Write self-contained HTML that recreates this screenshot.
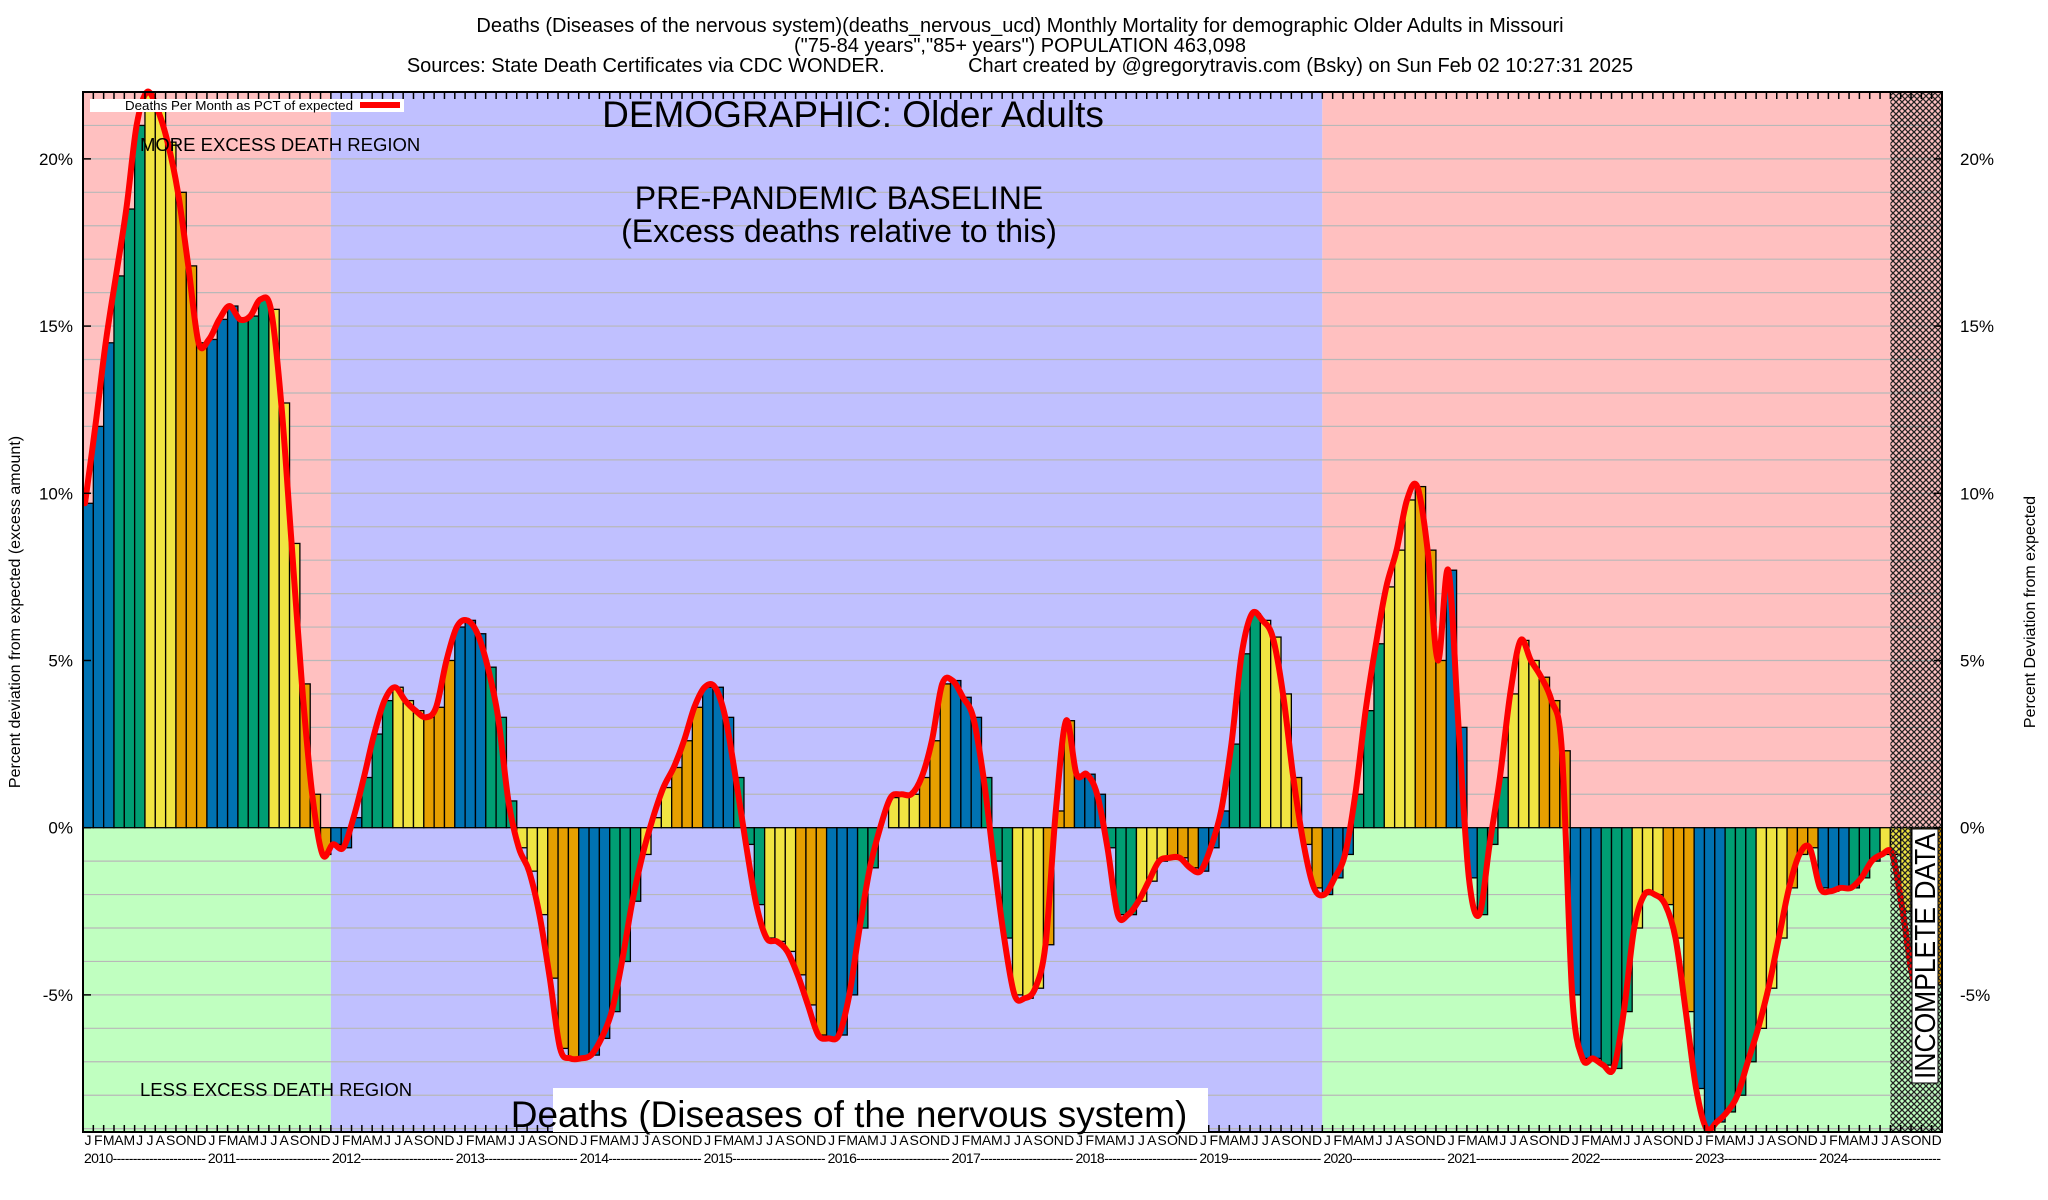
<!DOCTYPE html>
<html><head><meta charset="utf-8"><style>
html,body{margin:0;padding:0;background:#fff;}
svg{display:block;font-family:"Liberation Sans",Arial,sans-serif;}
</style></head><body>
<svg id="chart" width="2048" height="1200" viewBox="0 0 2048 1200" xmlns="http://www.w3.org/2000/svg">
<defs>
<pattern id="hatch" width="6" height="6" patternUnits="userSpaceOnUse">
<path d="M0,0 L6,6 M6,0 L0,6" stroke="#222" stroke-width="1.3"/>
</pattern>
</defs>
<g id="bg"></g><g id="grid"></g><g id="bars"></g><g id="line"></g><g id="hatchg"></g><g id="frame"></g><g id="labels"></g>
</svg>
<script>
const years = [2010,2011,2012,2013,2014,2015,2016,2017,2018,2019,2020,2021,2022,2023,2024];
const monthLetters = ["J","F","M","A","M","J","J","A","S","O","N","D"];
const yTicks = [-5,0,5,10,15,20];
const yTickLabels = ["-5%","0%","5%","10%","15%","20%"];
const pctValues = [
9.7,12,14.5,16.5,18.5,21,22,21.5,20.5,19,16.8,14.5,
14.6,15.2,15.6,15.2,15.3,15.8,15.5,12.7,8.5,4.3,1,-0.8,
-0.5,-0.6,0.3,1.5,2.8,3.8,4.2,3.8,3.5,3.3,3.6,5,
6,6.2,5.8,4.8,3.3,0.8,-0.6,-1.3,-2.6,-4.5,-6.6,-6.9,
-6.9,-6.8,-6.3,-5.5,-4,-2.2,-0.8,0.3,1.2,1.8,2.6,3.6,
4.2,4.2,3.3,1.5,-0.5,-2.3,-3.3,-3.4,-3.7,-4.4,-5.3,-6.2,
-6.3,-6.2,-5,-3,-1.2,0,0.9,1.0,1.0,1.5,2.6,4.3,
4.4,3.9,3.3,1.5,-1.0,-3.3,-5,-5.1,-4.8,-3.5,0.5,3.2,
1.6,1.6,1.0,-0.6,-2.6,-2.6,-2.2,-1.6,-1.0,-0.9,-0.9,-1.2,
-1.3,-0.6,0.5,2.5,5.2,6.4,6.2,5.7,4.0,1.5,-0.5,-1.8,
-2.0,-1.5,-0.8,1.0,3.5,5.5,7.2,8.3,9.8,10.2,8.3,5.0,
7.7,3.0,-1.5,-2.6,-0.5,1.5,4.0,5.6,5.0,4.5,3.8,2.3,
-5.0,-6.9,-6.9,-7.1,-7.2,-5.5,-3.0,-2.0,-2.0,-2.3,-3.3,-5.5,
-7.8,-9.0,-8.8,-8.5,-8.0,-7.0,-6.0,-4.8,-3.3,-1.8,-0.8,-0.6,
-1.8,-1.9,-1.8,-1.8,-1.5,-1.0,-0.8,-0.8,-2.5,-4.5,-4.6,-4.7
];
const baselineYears = [2012,2019];
const incompleteFromMonth = 175;

const NS="http://www.w3.org/2000/svg";
const L=83,R=1942,T=92,B=1132,YMIN=-9.1,YMAX=22.0,NM=years.length*12;
const xS=m=>L+(R-L)*m/NM;
const yS=v=>B-(B-T)*(v-YMIN)/(YMAX-YMIN);
function mk(parent,tag,attrs,text){const e=document.createElementNS(NS,tag);for(const k in attrs)e.setAttribute(k,attrs[k]);if(text!==undefined)e.textContent=text;document.getElementById(parent).appendChild(e);return e;}
const colors=["#0072B2","#0072B2","#0072B2","#009E73","#009E73","#009E73","#F0E442","#F0E442","#F0E442","#E69F00","#E69F00","#E69F00"];

const y0=yS(0);
const bStart=(baselineYears[0]-years[0])*12, bEnd=(baselineYears[1]-years[0]+1)*12;
let e;
e=mk('bg','rect',{x:xS(0),y:T,width:xS(bStart)-xS(0),height:y0-T,fill:"#FFC0C0"});

e=mk('bg','rect',{x:xS(0),y:y0,width:xS(bStart)-xS(0),height:B-y0,fill:"#C0FFC0"});

e=mk('bg','rect',{x:xS(bStart),y:T,width:xS(bEnd)-xS(bStart),height:B-T,fill:"#C0C0FF"});

e=mk('bg','rect',{x:xS(bEnd),y:T,width:R-xS(bEnd),height:y0-T,fill:"#FFC0C0"});

e=mk('bg','rect',{x:xS(bEnd),y:y0,width:R-xS(bEnd),height:B-y0,fill:"#C0FFC0"});


for(let v=Math.ceil(YMIN);v<=Math.floor(YMAX);v++){
 e=mk('grid','line',{x1:L,x2:R,y1:yS(v),y2:yS(v),stroke:"#b8b8b8","stroke-width":1.2});
 
}
pctValues.forEach((v,i)=>{
 const x1=xS(i),x2=xS(i+1),yv=yS(v);
 e=mk('bars','rect',{x:x1,y:Math.min(yv,y0),width:x2-x1,height:Math.abs(yv-y0),fill:colors[i%12],stroke:"#000","stroke-width":1.3});
 
});

const pts=pctValues.map((v,i)=>[xS(i)+2,yS(v)]);
let d="M"+pts[0][0].toFixed(1)+","+pts[0][1].toFixed(1);
for(let i=0;i<pts.length-1;i++){
 const p0=pts[Math.max(0,i-1)],p1=pts[i],p2=pts[i+1],p3=pts[Math.min(pts.length-1,i+2)];
 const c1=[p1[0]+(p2[0]-p0[0])/6,p1[1]+(p2[1]-p0[1])/6];
 const c2=[p2[0]-(p3[0]-p1[0])/6,p2[1]-(p3[1]-p1[1])/6];
 d+="C"+c1[0].toFixed(1)+","+c1[1].toFixed(1)+" "+c2[0].toFixed(1)+","+c2[1].toFixed(1)+" "+p2[0].toFixed(1)+","+p2[1].toFixed(1);
}
e=mk('line','path',{d:d,fill:"none",stroke:"#ff0000","stroke-width":6,"stroke-linejoin":"round","stroke-linecap":"round"});


e=mk('hatchg','rect',{x:xS(incompleteFromMonth),y:T,width:R-xS(incompleteFromMonth),height:B-T,fill:"url(#hatch)"});


e=mk('frame','rect',{x:L,y:T,width:R-L,height:B-T,fill:"none",stroke:"#000","stroke-width":2});

for(let i=0;i<=NM;i++){
 e=mk('frame','line',{x1:xS(i),x2:xS(i),y1:T,y2:T+7,stroke:"#000","stroke-width":1.5});
 
 e=mk('frame','line',{x1:xS(i),x2:xS(i),y1:B,y2:B-7,stroke:"#000","stroke-width":1.5});
 
}
yTicks.forEach((v,k)=>{
 e=mk('frame','line',{x1:L,x2:L+8,y1:yS(v),y2:yS(v),stroke:"#000","stroke-width":1.5});
 
 e=mk('frame','line',{x1:R-8,x2:R,y1:yS(v),y2:yS(v),stroke:"#000","stroke-width":1.5});
 
 e=mk('labels','text',{x:L-10,y:yS(v)+6,"text-anchor":"end","font-size":17},yTickLabels[k]);
 
 e=mk('labels','text',{x:R+18,y:yS(v)+6,"text-anchor":"start","font-size":17},yTickLabels[k]);
 
});
for(let i=0;i<NM;i++){
 e=mk('labels','text',{x:xS(i)+5,y:1145,"text-anchor":"middle","font-size":14},monthLetters[i%12]);
 
}
years.forEach((yr,k)=>{
 e=mk('labels','text',{x:xS(k*12)+1,y:1163,"font-size":14,textLength:xS(12)-xS(0)-2,lengthAdjust:"spacing"},yr+"-----------------------");
 
});
</script>
<svg style="position:absolute;left:0;top:0" width="2048" height="1200">
<g font-family="Liberation Sans, Arial, sans-serif">
<text x="1020" y="32" text-anchor="middle" font-size="20">Deaths (Diseases of the nervous system)(deaths_nervous_ucd) Monthly Mortality for demographic Older Adults in Missouri</text>
<text x="1020" y="52" text-anchor="middle" font-size="20">("75-84 years","85+ years") POPULATION 463,098</text>
<text x="1020" y="72" text-anchor="middle" font-size="20" xml:space="preserve">Sources: State Death Certificates via CDC WONDER.               Chart created by @gregorytravis.com (Bsky) on Sun Feb 02 10:27:31 2025</text>
<rect x="90" y="99" width="314" height="13" fill="#fff"/>
<text x="125" y="110" font-size="13" textLength="228" lengthAdjust="spacingAndGlyphs">Deaths Per Month as PCT of expected</text>
<line x1="360" x2="400" y1="105" y2="105" stroke="#f00" stroke-width="6"/>
<text x="853" y="127" text-anchor="middle" font-size="37">DEMOGRAPHIC: Older Adults</text>
<text x="839" y="209" text-anchor="middle" font-size="32">PRE-PANDEMIC BASELINE</text>
<text x="839" y="242" text-anchor="middle" font-size="32">(Excess deaths relative to this)</text>
<text x="140" y="151" font-size="18.5">MORE EXCESS DEATH REGION</text>
<text x="140" y="1096" font-size="18.5">LESS EXCESS DEATH REGION</text>
<rect x="553" y="1088" width="655" height="44" fill="#fff"/>
<text x="849" y="1127" text-anchor="middle" font-size="37">Deaths (Diseases of the nervous system)</text>
<rect x="1912" y="829" width="26" height="254" fill="#fff" stroke="#000" stroke-width="1"/>
<text transform="translate(1935,956) rotate(-90)" text-anchor="middle" font-size="29" textLength="246" lengthAdjust="spacingAndGlyphs">INCOMPLETE DATA</text>
<text transform="translate(20,612) rotate(-90)" text-anchor="middle" font-size="16">Percent deviation from expected (excess amount)</text>
<text transform="translate(2035,612) rotate(-90)" text-anchor="middle" font-size="16">Percent Deviation from expected</text>
</g>
</svg>
</body></html>
